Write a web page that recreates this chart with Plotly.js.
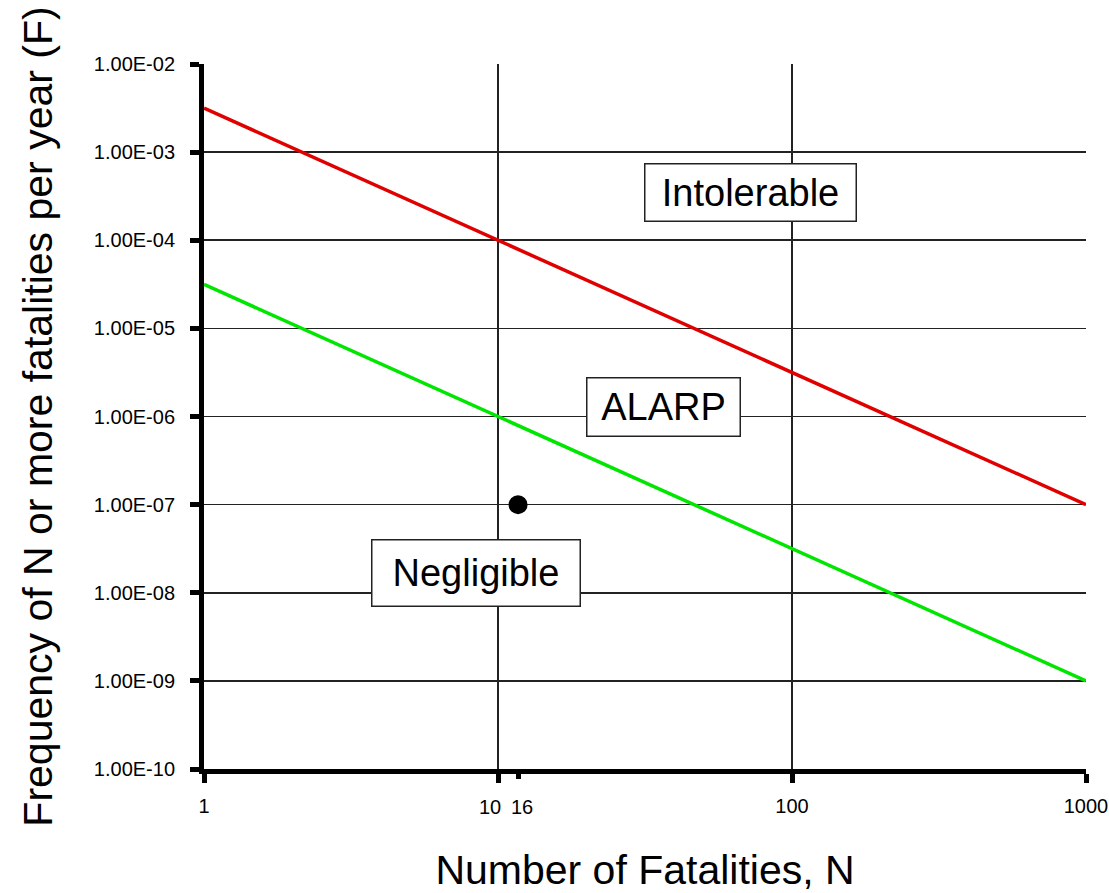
<!DOCTYPE html>
<html>
<head>
<meta charset="utf-8">
<script src="https://cdn.plot.ly/plotly-3.0.1.min.js"></script>
<style>html,body{margin:0;padding:0;background:#fff;}#chart{width:1109px;height:893px;}</style>
</head>
<body>
<div id="chart"></div>
<script>
// ---- data ----
const fatalitiesN = [1, 1000];
const intolerableF = [3.16e-3, 1e-7];
const negligibleF = [3.16e-5, 1e-9];
const pointN = [11.7];
const pointF = [1e-7];

const yTickVals = [1e-10, 1e-9, 1e-8, 1e-7, 1e-6, 1e-5, 1e-4, 1e-3, 1e-2];
const yTickText = ['1.00E-10', '1.00E-09', '1.00E-08', '1.00E-07', '1.00E-06', '1.00E-05', '1.00E-04', '1.00E-03', '1.00E-02'];
const xTickVals = [1, 10, 100, 1000];
const xTickText = ['1', '', '100', '1000'];
const tenTickVals = [10];
const tenTickText = ['10'];
const pointTickText = ['16'];

const regionLabels = ['Intolerable', 'ALARP', 'Negligible'];
const regionN = [72.3, 36.5, 8.4];
const regionF = [3.46e-4, 1.27e-6, 1.66e-8];
const regionBoxW = [210, 152, 207];
const regionBoxH = [56, 57, 65];

const FONT = 'Liberation Sans, Arial, sans-serif';

const traces = [
  {x: fatalitiesN, y: intolerableF, type: 'scatter', mode: 'lines',
   line: {color: 'rgb(225,0,0)', width: 3.5}, hoverinfo: 'x+y'},
  {x: fatalitiesN, y: negligibleF, type: 'scatter', mode: 'lines',
   line: {color: 'rgb(0,230,0)', width: 3.5}, hoverinfo: 'x+y'},
  {x: pointN, y: pointF, type: 'scatter', mode: 'markers',
   marker: {color: '#000', size: 19}, hoverinfo: 'x+y'},
  // invisible traces to carry the extra x axes (the "10" and "16" labels)
  {x: pointN, y: pointF, xaxis: 'x2', type: 'scatter', mode: 'markers',
   marker: {opacity: 0}, hoverinfo: 'skip', showlegend: false},
  {x: tenTickVals, y: pointF, xaxis: 'x3', type: 'scatter', mode: 'markers',
   marker: {opacity: 0}, hoverinfo: 'skip', showlegend: false}
];

const annotations = regionLabels.map((t, i) => ({
  text: t, x: Math.log10(regionN[i]), y: Math.log10(regionF[i]),
  xref: 'x', yref: 'y', showarrow: false,
  font: {family: FONT, size: 38, color: '#000'},
  bgcolor: '#fff', bordercolor: '#222', borderwidth: 1.5, borderpad: 0,
  width: regionBoxW[i], height: regionBoxH[i], align: 'center', valign: 'middle'
}));

const extraAxis = (vals, text, shift) => ({
  type: 'log', range: [0, 3], overlaying: 'x', side: 'bottom',
  tickvals: vals, ticktext: text,
  tickfont: {family: FONT, size: 20, color: '#000'},
  ticks: 'outside', ticklen: 9, tickwidth: 5, tickcolor: '#000',
  showline: false, showgrid: false, zeroline: false,
  ticklabelstandoff: 11, ticklabelshift: shift
});

const layout = {
  width: 1109, height: 893,
  margin: {l: 204, r: 23, t: 64, b: 124},
  paper_bgcolor: '#fff', plot_bgcolor: '#fff',
  showlegend: false,
  font: {family: FONT, color: '#000'},
  xaxis: {
    type: 'log', range: [0, 3],
    tickvals: xTickVals, ticktext: xTickText,
    tickfont: {family: FONT, size: 20, color: '#000'},
    ticks: 'outside', ticklen: 9, tickwidth: 5, tickcolor: '#000',
    showline: true, linecolor: '#000', linewidth: 5,
    showgrid: true, gridcolor: '#222', gridwidth: 1.7,
    zeroline: false, ticklabelstandoff: 6,
    title: {text: 'Number of Fatalities, N', font: {family: FONT, size: 41, color: '#000'}, standoff: 57}
  },
  xaxis2: extraAxis(pointN, pointTickText, 4),
  xaxis3: extraAxis(tenTickVals, tenTickText, -8),
  yaxis: {
    type: 'log', range: [-10, -2],
    tickvals: yTickVals, ticktext: yTickText,
    tickfont: {family: FONT, size: 20, color: '#000'},
    ticks: 'outside', ticklen: 9, tickwidth: 5, tickcolor: '#000',
    showline: true, linecolor: '#000', linewidth: 5,
    showgrid: true, gridcolor: '#222', gridwidth: 1.7,
    zeroline: false, ticklabelstandoff: 11,
    title: {text: 'Frequency of N or more fatalities per year (F)\u2009\u2009', font: {family: FONT, size: 41, color: '#000'}, standoff: 30}
  },
  annotations: annotations
};

Plotly.newPlot('chart', traces, layout, {displayModeBar: false, staticPlot: true});
</script>
</body>
</html>
